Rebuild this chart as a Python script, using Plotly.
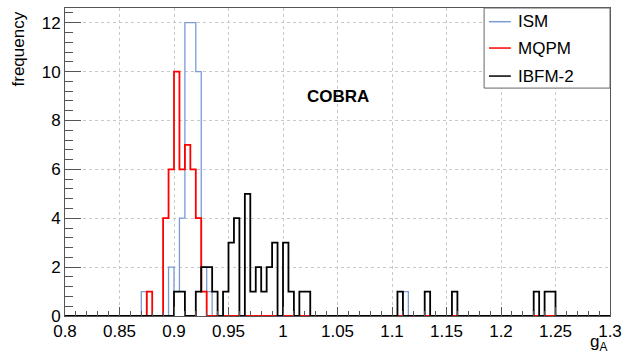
import numpy as np
import plotly.graph_objects as go

# ---- data (bin lower edges, bin width 0.005, and counts) ----
x_min, x_max, bin_w = 0.8, 1.3, 0.005

ism_bins = [0.870, 0.895, 0.900, 0.905, 0.910, 0.915, 0.920, 0.925, 0.930, 1.110]
ism_counts = [1, 2, 1, 4, 12, 12, 10, 2, 1, 1]

mqpm_bins = [0.875, 0.890, 0.895, 0.900, 0.905, 0.910, 0.915, 0.920, 0.925]
mqpm_counts = [1, 4, 6, 10, 6, 7, 6, 4, 1]

ibfm_bins = [0.900, 0.905, 0.920, 0.925, 0.930, 0.935, 0.945, 0.950, 0.955,
             0.965, 0.970, 0.975, 0.980, 0.985, 0.990, 1.000, 1.005, 1.015,
             1.020, 1.105, 1.130, 1.155, 1.230, 1.240, 1.245]
ibfm_counts = [1, 1, 1, 2, 2, 1, 1, 3, 4, 5, 1, 2, 1, 2, 3, 3, 1, 1, 1, 1, 1,
               1, 1, 1, 1]

series_names = ["ISM", "MQPM", "IBFM-2"]

x_ticks = [0.8, 0.85, 0.9, 0.95, 1.0, 1.05, 1.1, 1.15, 1.2, 1.25, 1.3]
x_tick_text = ["0.8", "0.85", "0.9", "0.95", "1", "1.05", "1.1", "1.15", "1.2", "1.25", "1.3"]

FONT = "Liberation Sans, Arial, Helvetica, sans-serif"
colors = ["#7b9bd6", "#ff0000", "#000000"]
widths = [1.3, 1.8, 1.8]

nb = int(round((x_max - x_min) / bin_w))
edges = x_min + bin_w * np.arange(nb + 1)


def step(bins, counts):
    full = np.zeros(nb)
    for b, c in zip(bins, counts):
        full[int(round((b - x_min) / bin_w))] = c
    return edges, np.append(full, full[-1])


fig = go.Figure()
all_data = [(ism_bins, ism_counts), (mqpm_bins, mqpm_counts), (ibfm_bins, ibfm_counts)]
for name, (b, c), col, w in zip(series_names, all_data, colors, widths):
    xs, ys = step(b, c)
    fig.add_trace(go.Scatter(x=xs, y=ys, mode="lines", name=name, showlegend=False,
                             line=dict(color=col, width=w, shape="hv")))

# ---- legend box (drawn in paper coordinates) ----
leg_x0, leg_x1, leg_y0, leg_y1 = 0.769, 1.0, 0.740, 1.0
fig.add_shape(type="rect", xref="paper", yref="paper", x0=leg_x0, x1=leg_x1,
              y0=leg_y0, y1=leg_y1, line=dict(color="#666666", width=1),
              fillcolor="white", layer="above")
entry_y = [0.9555, 0.870, 0.779]
for name, col, ey in zip(series_names, colors, entry_y):
    fig.add_shape(type="line", xref="paper", yref="paper", x0=0.778, x1=0.818,
                  y0=ey, y1=ey, line=dict(color=col, width=1.5), layer="above")
    fig.add_annotation(x=0.827, y=ey, xref="paper", yref="paper", text=name,
                       showarrow=False, xanchor="left", yanchor="middle",
                       font=dict(family=FONT, size=17, color="black"))

fig.add_annotation(x=1.05, y=9.0, xref="x", yref="y", text="<b>COBRA</b>",
                   showarrow=False, font=dict(family=FONT, size=17, color="black"))
fig.add_annotation(x=-0.086, y=0.994, xref="paper", yref="paper", text="frequency",
                   textangle=-90, showarrow=False, xanchor="center", yanchor="top",
                   font=dict(family=FONT, size=17, color="black"))
fig.add_annotation(x=0.998, y=-0.13, xref="paper", yref="paper", text="g<sub>A</sub>",
                   showarrow=False, xanchor="right", yanchor="bottom",
                   font=dict(family=FONT, size=17, color="black"))

axis_common = dict(showline=True, linecolor="#555555", linewidth=1, mirror=True,
                   ticks="inside", tickcolor="#555555", zeroline=False,
                   showgrid=True, gridcolor="#c8c8c8", griddash="3px,3px", gridwidth=1,
                   tickfont=dict(family=FONT, size=17, color="black"))

fig.update_xaxes(range=[x_min, x_max], tickvals=x_ticks, ticktext=x_tick_text,
                 ticklen=9,
                 minor=dict(dtick=0.01, ticks="inside", ticklen=5, tickcolor="#555555",
                            showgrid=False),
                 **axis_common)
fig.update_yaxes(range=[0, 12.6], dtick=2, tick0=0, ticklen=16,
                 minor=dict(dtick=0.4, ticks="inside", ticklen=8, tickcolor="#555555",
                            showgrid=False),
                 **axis_common)

fig.update_layout(
    width=635, height=354,
    margin=dict(l=65, r=25, t=8, b=38),
    plot_bgcolor="white", paper_bgcolor="white",
    font=dict(family=FONT, size=17, color="black"),
    showlegend=False,
)

fig.write_html("out.html")
